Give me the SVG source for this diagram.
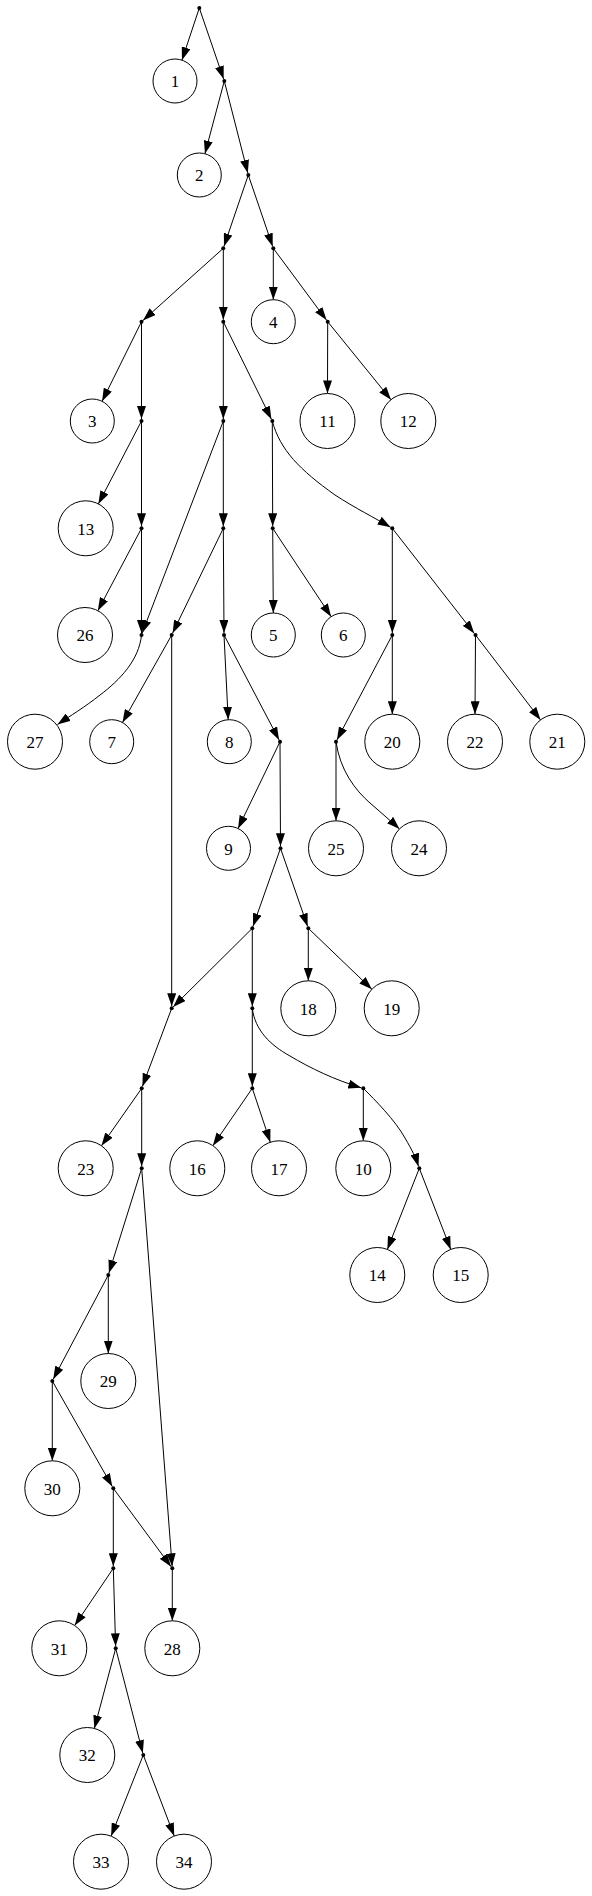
<svg xmlns="http://www.w3.org/2000/svg" width="592" height="1896" viewBox="0 0 592 1896">
<style>
.n circle{fill:#fff;stroke:#000;stroke-width:1}
.n text{font-family:"Liberation Serif","Times New Roman",serif;font-size:17px;text-anchor:middle;fill:#000}
.d{fill:#000}
.e path{fill:none;stroke:#000;stroke-width:1;marker-end:url(#ah)}
</style>
<defs>
<marker id="ah" markerUnits="userSpaceOnUse" viewBox="0 0 13 9" markerWidth="13" markerHeight="9" refX="13" refY="4.5" orient="auto">
<path d="M0,0 L13,4.5 L0,9 z" fill="#000"/>
</marker>
</defs>
<g id="connectors" class="e">
<path d="M199.3,8 L181.95,60.13"/>
<path d="M199.3,8 L223.65,79.1"/>
<path d="M224.3,81 L204.95,153.74"/>
<path d="M224.3,81 L247.8,173.06"/>
<path d="M248.3,175 L223.95,246.4"/>
<path d="M248.3,175 L272.65,246.4"/>
<path d="M223.3,248.3 L143,320.4"/>
<path d="M223.3,248.3 L223.3,319.7"/>
<path d="M273.3,248.3 L273.3,299.7"/>
<path d="M273.3,248.3 L326.5,320.1"/>
<path d="M327.7,321.7 L327.5,393.5"/>
<path d="M327.7,321.7 L390.97,399.65"/>
<path d="M141.5,321.7 L102.07,401.29"/>
<path d="M141.5,321.7 L141.5,419"/>
<path d="M223.3,321.7 L223.3,419"/>
<path d="M223.3,321.7 L271.4,419.2"/>
<path d="M141.5,421 L98.39,503.9"/>
<path d="M141.5,421 L141.5,526.3"/>
<path d="M223.3,421 L142.2,633.1"/>
<path d="M223.3,421 L223.3,526.3"/>
<path d="M272.3,421 L272.7,526.3"/>
<path d="M272.3,421 C280,450 300,470 335,495 C355,508 375,518 390.6,527.3"/>
<path d="M141.5,528.3 L97.87,610.7"/>
<path d="M141.5,528.3 L141.5,633"/>
<path d="M223.3,528.3 L172.57,633.2"/>
<path d="M223.3,528.3 L224,633"/>
<path d="M272.7,528.3 L273.3,613"/>
<path d="M272.7,528.3 L331.16,616.65"/>
<path d="M392.3,528.3 L392.3,633"/>
<path d="M392.3,528.3 L474.27,633.4"/>
<path d="M141.5,635 C139,660 120,680 100,695 C85,707 70,716 57.5,724.5"/>
<path d="M171.7,635 L122.48,722.5"/>
<path d="M171.7,635 L171.7,1006.3"/>
<path d="M224,635 L228.2,719.7"/>
<path d="M224,635 L279.07,739.9"/>
<path d="M392.3,635 L336.93,739.9"/>
<path d="M392.3,635 L392.3,714.2"/>
<path d="M475.5,635 L475,714.2"/>
<path d="M475.5,635 L540.57,719.88"/>
<path d="M280,741.7 L238.07,828.5"/>
<path d="M280,741.7 L280.5,846.3"/>
<path d="M336,741.7 L336,820.8"/>
<path d="M336,741.7 C340,770 355,790 370,803 C380,812 390,820 399.5,829"/>
<path d="M280.5,848.3 L252.96,926.4"/>
<path d="M280.5,848.3 L307.64,926.4"/>
<path d="M252.3,928.3 L173.12,1006.9"/>
<path d="M252.3,928.3 L252.3,1006.3"/>
<path d="M308.3,928.3 L308.3,980.8"/>
<path d="M308.3,928.3 L371.86,989.26"/>
<path d="M171.7,1008.3 L142.4,1086.4"/>
<path d="M252.3,1008.3 L252.3,1086.3"/>
<path d="M252.3,1008.3 C255,1030 270,1045 290,1056 C310,1068 335,1080 361.3,1087.8"/>
<path d="M141.7,1088.3 L101.47,1145.77"/>
<path d="M141.7,1088.3 L141.7,1166.3"/>
<path d="M252.3,1088.3 L212.88,1145.64"/>
<path d="M252.3,1088.3 L270.3,1142.2"/>
<path d="M363.3,1088.3 L363.3,1140.8"/>
<path d="M363.3,1088.3 C375,1100 395,1120 405,1138 C412,1150 416,1158 418.5,1166.4"/>
<path d="M419.3,1168.3 L387.37,1249.4"/>
<path d="M419.3,1168.3 L450.75,1249.4"/>
<path d="M141.7,1168.3 L108.9,1273.1"/>
<path d="M141.7,1168.3 L172.15,1566.3"/>
<path d="M108.3,1275 L53.23,1379.2"/>
<path d="M108.3,1275 L108.3,1353.5"/>
<path d="M52.3,1381 L52.3,1460.8"/>
<path d="M52.3,1381 L112.31,1486.6"/>
<path d="M113.3,1488.3 L113.3,1566.3"/>
<path d="M113.3,1488.3 L171.1,1566.7"/>
<path d="M172.3,1568.3 L172.3,1620.8"/>
<path d="M113.3,1568.3 L74.69,1625.5"/>
<path d="M113.3,1568.3 L115.64,1646.3"/>
<path d="M115.7,1648.3 L94.37,1728.4"/>
<path d="M115.7,1648.3 L142.8,1753.1"/>
<path d="M143.3,1755 L111.13,1836.1"/>
<path d="M143.3,1755 L174.2,1836"/>
</g>
<g id="points">
<circle id="p0" class="d" cx="199.3" cy="8" r="2"/>
<circle id="p1" class="d" cx="224.3" cy="81" r="2"/>
<circle id="p2" class="d" cx="248.3" cy="175" r="2"/>
<circle id="p3a" class="d" cx="223.3" cy="248.3" r="2"/>
<circle id="p3b" class="d" cx="273.3" cy="248.3" r="2"/>
<circle id="p4a" class="d" cx="141.5" cy="321.7" r="2"/>
<circle id="p4b" class="d" cx="223.3" cy="321.7" r="2"/>
<circle id="p4c" class="d" cx="327.7" cy="321.7" r="2"/>
<circle id="p5a" class="d" cx="141.5" cy="421" r="2"/>
<circle id="p5b" class="d" cx="223.3" cy="421" r="2"/>
<circle id="p5c" class="d" cx="272.3" cy="421" r="2"/>
<circle id="p6a" class="d" cx="141.5" cy="528.3" r="2"/>
<circle id="p6b" class="d" cx="223.3" cy="528.3" r="2"/>
<circle id="p6c" class="d" cx="272.7" cy="528.3" r="2"/>
<circle id="p6d" class="d" cx="392.3" cy="528.3" r="2"/>
<circle id="p7a" class="d" cx="141.5" cy="635" r="2"/>
<circle id="p7b" class="d" cx="171.7" cy="635" r="2"/>
<circle id="p7c" class="d" cx="224" cy="635" r="2"/>
<circle id="p7d" class="d" cx="392.3" cy="635" r="2"/>
<circle id="p7e" class="d" cx="475.5" cy="635" r="2"/>
<circle id="p8a" class="d" cx="280" cy="741.7" r="2"/>
<circle id="p8b" class="d" cx="336" cy="741.7" r="2"/>
<circle id="p9" class="d" cx="280.5" cy="848.3" r="2"/>
<circle id="p10a" class="d" cx="252.3" cy="928.3" r="2"/>
<circle id="p10b" class="d" cx="308.3" cy="928.3" r="2"/>
<circle id="p11a" class="d" cx="171.7" cy="1008.3" r="2"/>
<circle id="p11b" class="d" cx="252.3" cy="1008.3" r="2"/>
<circle id="p12a" class="d" cx="141.7" cy="1088.3" r="2"/>
<circle id="p12b" class="d" cx="252.3" cy="1088.3" r="2"/>
<circle id="p12c" class="d" cx="363.3" cy="1088.3" r="2"/>
<circle id="p13a" class="d" cx="141.7" cy="1168.3" r="2"/>
<circle id="p13b" class="d" cx="419.3" cy="1168.3" r="2"/>
<circle id="p14" class="d" cx="108.3" cy="1275" r="2"/>
<circle id="p15" class="d" cx="52.3" cy="1381" r="2"/>
<circle id="p16" class="d" cx="113.3" cy="1488.3" r="2"/>
<circle id="p17a" class="d" cx="113.3" cy="1568.3" r="2"/>
<circle id="p17b" class="d" cx="172.3" cy="1568.3" r="2"/>
<circle id="p18" class="d" cx="115.7" cy="1648.3" r="2"/>
<circle id="p19" class="d" cx="143.3" cy="1755" r="2"/>
</g>
<g id="n1" class="n"><circle cx="175" cy="81" r="22"/><text x="175" y="87.3">1</text></g>
<g id="n2" class="n"><circle cx="199.3" cy="175" r="22"/><text x="199.3" y="181.3">2</text></g>
<g id="n3" class="n"><circle cx="92.3" cy="421" r="22"/><text x="92.3" y="427.3">3</text></g>
<g id="n4" class="n"><circle cx="273.3" cy="321.7" r="22"/><text x="273.3" y="328">4</text></g>
<g id="n5" class="n"><circle cx="273.3" cy="635" r="22"/><text x="273.3" y="641.3">5</text></g>
<g id="n6" class="n"><circle cx="343.3" cy="635" r="22"/><text x="343.3" y="641.3">6</text></g>
<g id="n7" class="n"><circle cx="111.7" cy="741.7" r="22"/><text x="111.7" y="748">7</text></g>
<g id="n8" class="n"><circle cx="229.3" cy="741.7" r="22"/><text x="229.3" y="748">8</text></g>
<g id="n9" class="n"><circle cx="228.5" cy="848.3" r="22"/><text x="228.5" y="854.6">9</text></g>
<g id="n10" class="n"><circle cx="363.3" cy="1168.3" r="27.5"/><text x="363.3" y="1174.6">10</text></g>
<g id="n11" class="n"><circle cx="327.5" cy="421" r="27.5"/><text x="327.5" y="427.3">11</text></g>
<g id="n12" class="n"><circle cx="408.3" cy="421" r="27.5"/><text x="408.3" y="427.3">12</text></g>
<g id="n13" class="n"><circle cx="85.7" cy="528.3" r="27.5"/><text x="85.7" y="534.6">13</text></g>
<g id="n14" class="n"><circle cx="377.3" cy="1275" r="27.5"/><text x="377.3" y="1281.3">14</text></g>
<g id="n15" class="n"><circle cx="460.7" cy="1275" r="27.5"/><text x="460.7" y="1281.3">15</text></g>
<g id="n16" class="n"><circle cx="197.3" cy="1168.3" r="27.5"/><text x="197.3" y="1174.6">16</text></g>
<g id="n17" class="n"><circle cx="279" cy="1168.3" r="27.5"/><text x="279" y="1174.6">17</text></g>
<g id="n18" class="n"><circle cx="308.3" cy="1008.3" r="27.5"/><text x="308.3" y="1014.6">18</text></g>
<g id="n19" class="n"><circle cx="391.7" cy="1008.3" r="27.5"/><text x="391.7" y="1014.6">19</text></g>
<g id="n20" class="n"><circle cx="392.3" cy="741.7" r="27.5"/><text x="392.3" y="748">20</text></g>
<g id="n21" class="n"><circle cx="557.3" cy="741.7" r="27.5"/><text x="557.3" y="748">21</text></g>
<g id="n22" class="n"><circle cx="475" cy="741.7" r="27.5"/><text x="475" y="748">22</text></g>
<g id="n23" class="n"><circle cx="85.7" cy="1168.3" r="27.5"/><text x="85.7" y="1174.6">23</text></g>
<g id="n24" class="n"><circle cx="419" cy="848.3" r="27.5"/><text x="419" y="854.6">24</text></g>
<g id="n25" class="n"><circle cx="336" cy="848.3" r="27.5"/><text x="336" y="854.6">25</text></g>
<g id="n26" class="n"><circle cx="85" cy="635" r="27.5"/><text x="85" y="641.3">26</text></g>
<g id="n27" class="n"><circle cx="35" cy="741.7" r="27.5"/><text x="35" y="748">27</text></g>
<g id="n28" class="n"><circle cx="172.3" cy="1648.3" r="27.5"/><text x="172.3" y="1654.6">28</text></g>
<g id="n29" class="n"><circle cx="108.3" cy="1381" r="27.5"/><text x="108.3" y="1387.3">29</text></g>
<g id="n30" class="n"><circle cx="52.3" cy="1488.3" r="27.5"/><text x="52.3" y="1494.6">30</text></g>
<g id="n31" class="n"><circle cx="59.3" cy="1648.3" r="27.5"/><text x="59.3" y="1654.6">31</text></g>
<g id="n32" class="n"><circle cx="87.3" cy="1755" r="27.5"/><text x="87.3" y="1761.3">32</text></g>
<g id="n33" class="n"><circle cx="101" cy="1861.7" r="27.5"/><text x="101" y="1868">33</text></g>
<g id="n34" class="n"><circle cx="184" cy="1861.7" r="27.5"/><text x="184" y="1868">34</text></g>
</svg>
